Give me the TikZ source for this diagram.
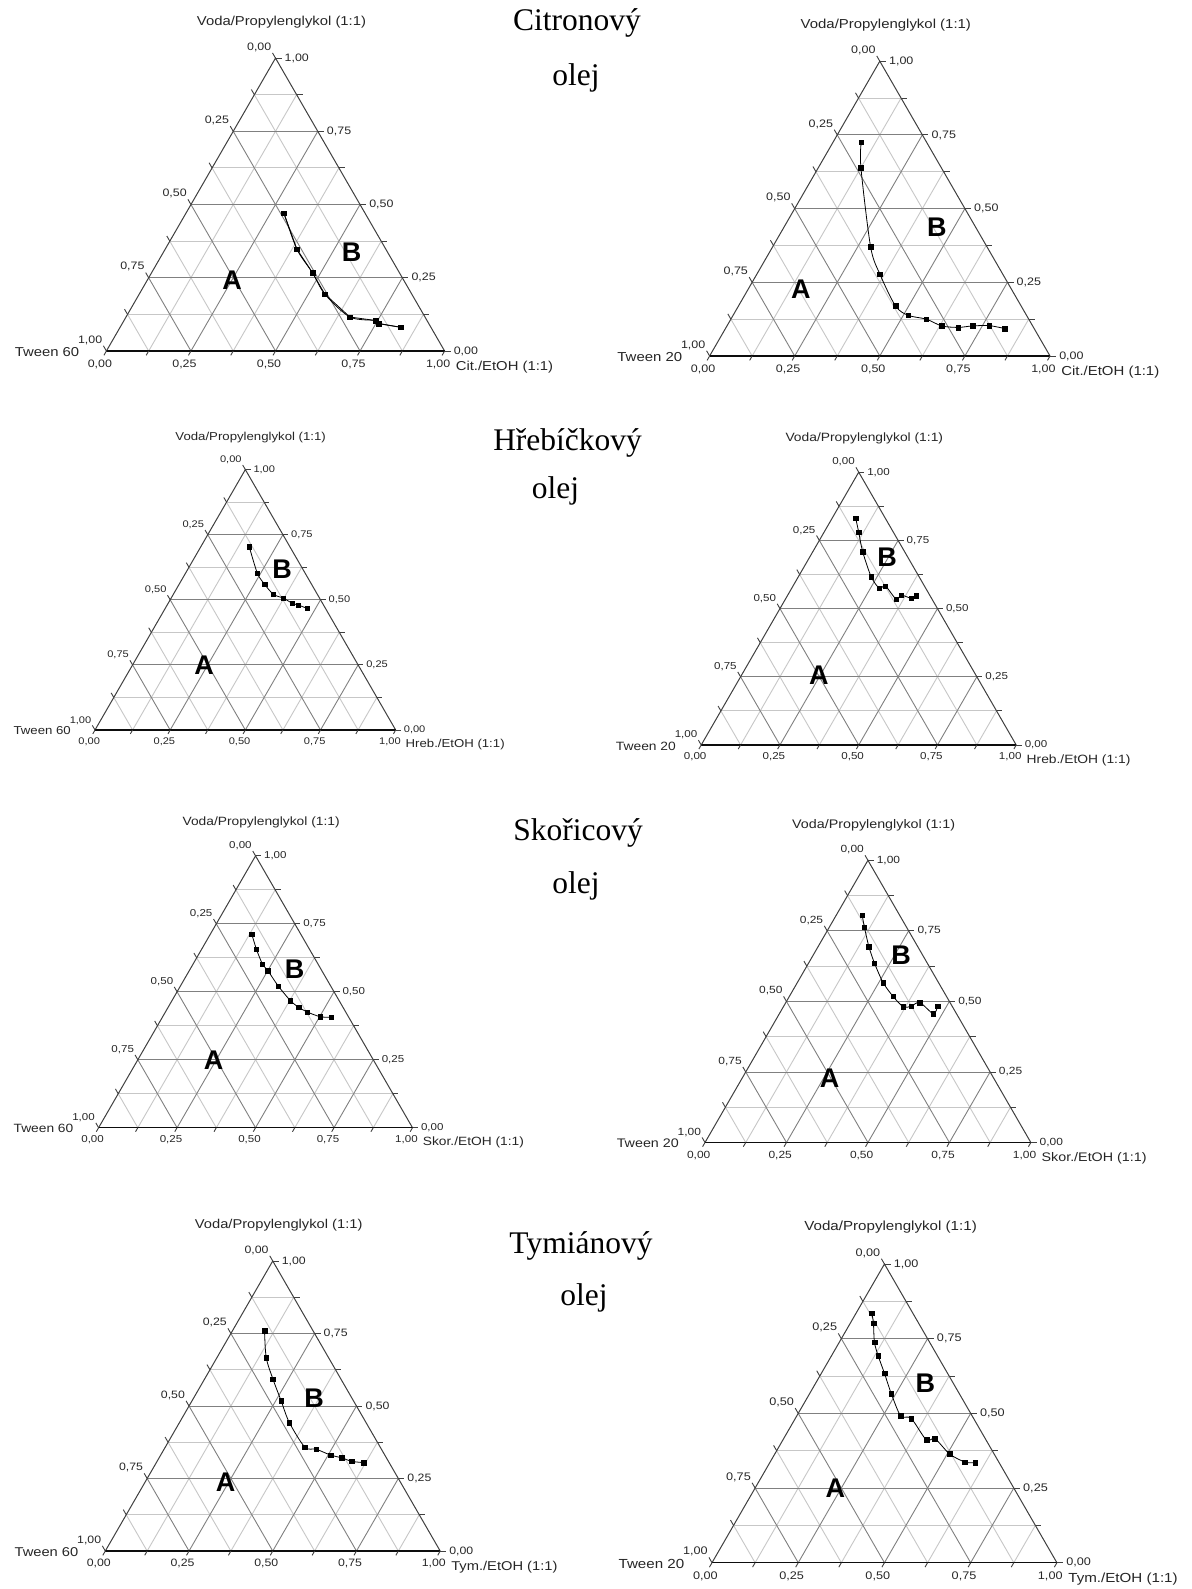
\documentclass[tikz,border=0pt]{standalone}
\usepackage{fontspec}
\setmainfont{Liberation Serif}
\newfontfamily\labfont[FakeStretch=1.15]{Liberation Sans}
\newfontfamily\abfont{Liberation Sans}
\usetikzlibrary{plotmarks}
\tikzset{
 gmin/.style={draw=black!22, line width=0.9pt},
 gmaj/.style={draw=black!50, line width=0.9pt},
 frame/.style={draw=black!75, line width=1pt},
 base/.style={draw=black!95, line width=1.1pt},
 tck/.style={draw=black!75, line width=0.9pt},
 ticklab/.style={font=\labfont\fontsize{10.8}{12}\selectfont, inner sep=1pt, text=black!85},
 axlab/.style={font=\labfont\fontsize{12.9}{14}\selectfont, inner sep=0pt, text=black!85},
 curve/.style={draw=black, line width=0.8pt},
 region/.style={font=\abfont\bfseries\fontsize{27}{30}\selectfont, inner sep=0pt},
 oiltitle/.style={font=\fontsize{31.5}{34}\selectfont, inner sep=0pt},
 tern/.style={x={(338pt,0pt)}, y={(169pt,292.72pt)}},
}
\newcommand\ternaxes[2]{%
 \foreach \k in {1,3,5,7}{
  \draw[gmin] (0,\k/8) -- ({1-\k/8},\k/8);
  \draw[gmin] (\k/8,0) -- (\k/8,{1-\k/8});
  \draw[gmin] (\k/8,0) -- (0,\k/8);
 }
 \foreach \k in {2,4,6}{
  \draw[gmaj] (0,\k/8) -- ({1-\k/8},\k/8);
  \draw[gmaj] (\k/8,0) -- (\k/8,{1-\k/8});
  \draw[gmaj] (\k/8,0) -- (0,\k/8);
 }
 \draw[frame] (1,0) -- (0,1) -- (0,0);
 \draw[base] (0,0) -- (1,0);
 \foreach \k in {0,...,8}{
  \draw[tck] ({1-\k/8},\k/8) -- ++(6pt,0pt);
  \draw[tck] (0,{1-\k/8}) -- ++(120:6pt);
  \draw[tck] (\k/8,0) -- ++(240:5pt);
 }
 \foreach \k/\lbl in {0/{0,00},2/{0,25},4/{0,50},6/{0,75},8/{1,00}}{
  \path ({1-\k/8},\k/8) ++(8pt,0pt) node[ticklab,anchor=west]{\lbl};
  \path (0,{1-\k/8}) ++(120:6pt) node[ticklab,anchor=south east]{\lbl};
  \path (\k/8,0) ++(240:5pt) node[ticklab,anchor=north,xshift=-4pt,yshift=-3pt]{\lbl};
 }
 \node[axlab, xshift=6pt, yshift=36pt] (vt) at (0,1) {Voda/Propylenglykol (1:1)};
 \node[axlab, anchor=east, xshift=-27pt, yshift=-1pt] (tw) at (0,0) {#1};
 \node[axlab, anchor=west, xshift=11pt, yshift=-16pt] (ol) at (1,0) {#2};
}
\newcommand\ternpts[1]{%
 \draw[curve] plot[smooth, tension=0.5] coordinates {#1};
 \draw[draw=none] plot[only marks, mark=square*, mark size=2.3pt, mark options={fill=black, draw=none}] coordinates {#1};
}
\begin{document}
\begin{tikzpicture}[x=1pt, y=-1pt]
\path[use as bounding box, fill=white] (0,0) rectangle (1191,1589);

% titles
\node[oiltitle] (t1a) at (577,22.5) {Citronový};
\node[oiltitle] (t1b) at (576,78) {olej};
\node[oiltitle] (t2a) at (567.6,443) {Hřebíčkový};
\node[oiltitle] (t2b) at (555.5,491) {olej};
\node[oiltitle] (t3a) at (578,833) {Skořicový};
\node[oiltitle] (t3b) at (576,886) {olej};
\node[oiltitle] (t4a) at (581,1246) {Tymiánový};
\node[oiltitle] (t4b) at (584,1298) {olej};

% T1
\begin{scope}[shift={(106.4,351)}, scale=1.0006, transform shape]
\begin{scope}[tern]
\ternaxes{Tween 60}{Cit./EtOH (1:1)}
\draw[curve] plot coordinates {(0.290,0.470) (0.390,0.347) (0.476,0.267) (0.549,0.194) (0.662,0.116) (0.745,0.104) (0.758,0.094) (0.830,0.081)};
\ternpts{(0.290,0.470) (0.390,0.347) (0.476,0.267) (0.549,0.194) (0.662,0.116) (0.745,0.104) (0.758,0.094) (0.830,0.081)}
\end{scope}
\end{scope}
\node[region] (a1) at (232,280) {A};
\node[region] (b1) at (351.5,252.3) {B};

% T2
\begin{scope}[shift={(709.6,356)}, scale=1.0071, transform shape]
\begin{scope}[tern]
\ternaxes{Tween 20}{Cit./EtOH (1:1)}
\ternpts{(0.083,0.725) (0.125,0.639) (0.288,0.370) (0.362,0.277) (0.461,0.170) (0.514,0.138) (0.574,0.125) (0.631,0.102) (0.682,0.097) (0.721,0.102) (0.770,0.103) (0.821,0.093)}
\end{scope}
\end{scope}
\node[region] (a2) at (800.8,289) {A};
\node[region] (b2) at (936.9,227.7) {B};

% T3
\begin{scope}[shift={(95,730)}, scale=0.8896, transform shape]
\begin{scope}[tern]
\ternaxes{Tween 60}{Hreb./EtOH (1:1)}
\ternpts{(0.161,0.704) (0.239,0.602) (0.285,0.559) (0.333,0.521) (0.374,0.506) (0.412,0.487) (0.436,0.480) (0.472,0.467)}
\end{scope}
\end{scope}
\node[region] (a3) at (204,665) {A};
\node[region] (b3) at (282,569) {B};

% T4
\begin{scope}[shift={(701.2,745)}, scale=0.932, transform shape]
\begin{scope}[tern]
\ternaxes{Tween 20}{Hreb./EtOH (1:1)}
\ternpts{(0.075,0.831) (0.110,0.780) (0.158,0.709) (0.231,0.617) (0.279,0.574) (0.293,0.583) (0.351,0.535) (0.361,0.549) (0.398,0.538) (0.409,0.547)}
\end{scope}
\end{scope}
\node[region] (a4) at (818.8,675.7) {A};
\node[region] (b4) at (887,557.3) {B};

% T5
\begin{scope}[shift={(98.6,1127.7)}, scale=0.9287, transform shape]
\begin{scope}[tern]
\ternaxes{Tween 60}{Skor./EtOH (1:1)}
\ternpts{(0.132,0.712) (0.175,0.656) (0.221,0.602) (0.250,0.578) (0.312,0.521) (0.378,0.467) (0.416,0.443) (0.451,0.426) (0.503,0.408) (0.538,0.407)}
\end{scope}
\end{scope}
\node[region] (a5) at (213.6,1060.7) {A};
\node[region] (b5) at (294.6,969) {B};

% T6
\begin{scope}[shift={(705,1142.5)}, scale=0.964, transform shape]
\begin{scope}[tern]
\ternaxes{Tween 20}{Skor./EtOH (1:1)}
\ternpts{(0.080,0.805) (0.107,0.764) (0.156,0.694) (0.202,0.636) (0.263,0.567) (0.318,0.518) (0.368,0.481) (0.391,0.483) (0.411,0.496) (0.473,0.456) (0.472,0.483)}
\end{scope}
\end{scope}
\node[region] (a6) at (829.6,1078.3) {A};
\node[region] (b6) at (901.2,955.7) {B};

% T7
\begin{scope}[shift={(105.3,1551)}, scale=0.9908, transform shape]
\begin{scope}[tern]
\ternaxes{Tween 60}{Tym./EtOH (1:1)}
\ternpts{(0.096,0.759) (0.147,0.667) (0.204,0.593) (0.266,0.518) (0.328,0.443) (0.417,0.358) (0.454,0.351) (0.507,0.331) (0.546,0.321) (0.582,0.309) (0.619,0.305)}
\end{scope}
\end{scope}
\node[region] (a7) at (225.7,1481.7) {A};
\node[region] (b7) at (314.1,1398.3) {B};

% T8
\begin{scope}[shift={(712,1562.7)}, scale=1.0204, transform shape]
\begin{scope}[tern]
\ternaxes{Tween 20}{Tym./EtOH (1:1)}
\ternpts{(0.046,0.835) (0.067,0.802) (0.102,0.738) (0.136,0.692) (0.183,0.634) (0.236,0.567) (0.301,0.492) (0.336,0.483) (0.416,0.411) (0.439,0.415) (0.507,0.364) (0.565,0.337) (0.596,0.335)}
\end{scope}
\end{scope}
\node[region] (a8) at (835.3,1488.3) {A};
\node[region] (b8) at (925.4,1382.7) {B};
\end{tikzpicture}
\end{document}
